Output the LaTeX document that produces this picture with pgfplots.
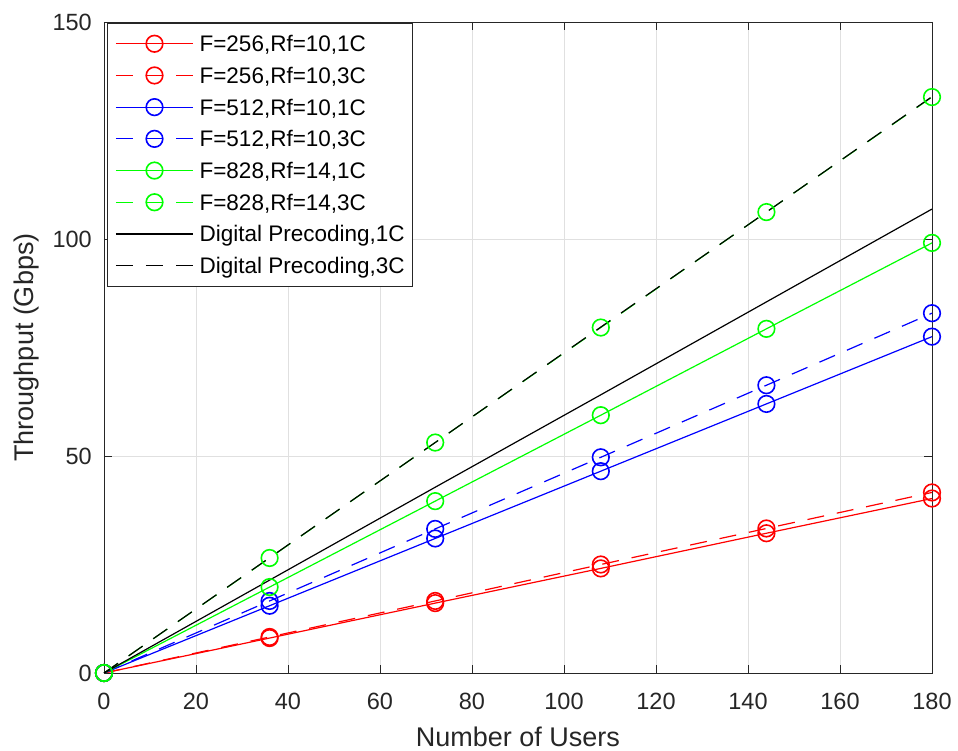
\documentclass[border=0pt]{standalone}
\usepackage{pgfplots}
\pgfplotsset{compat=1.18}
\usepackage{fontspec}
\setmainfont{Liberation Sans}
\definecolor{axc}{rgb}{0.15,0.15,0.15}
\definecolor{gridc}{rgb}{0.88,0.88,0.88}
\definecolor{mred}{rgb}{1,0,0}
\definecolor{mblue}{rgb}{0,0,1}
\definecolor{mgreen}{rgb}{0,1,0}
\begin{document}
\begin{tikzpicture}
\useasboundingbox (-104pt,-78pt) rectangle (854pt,673pt);
\begin{axis}[
  at={(0pt,0pt)}, anchor=south west,
  scale only axis, width=828pt, height=651pt,
  xmin=0, xmax=180, ymin=0, ymax=150,
  xtick={0,20,...,180}, ytick={0,50,100,150},
  tick align=inside, major tick length=8pt,
  grid=major, major grid style={gridc, line width=0.9pt},
  axis line style={axc, line width=0.9pt},
  tick style={axc, line width=0.9pt},
  ticklabel style={font=\fontsize{23.5}{28}\selectfont, text=axc},
  /pgf/number format/assume math mode=true,
  xticklabel style={inner sep=0pt, yshift=-20pt},
  yticklabel style={inner sep=0pt, xshift=-12pt},
  xlabel={Number of Users}, ylabel={Throughput (Gbps)},
  label style={font=\fontsize{27}{32}\selectfont, text=axc},
  xlabel style={at={(axis description cs:0.5,-0.083)}, anchor=north, inner sep=0pt},
  ylabel style={at={(axis description cs:-0.093,0.5)}, anchor=center, inner sep=0pt},
  legend style={at={(axis description cs:0,1)}, anchor=north west, xshift=3pt, yshift=-1pt,
    draw=axc, line width=0.8pt, fill=white, font=\fontsize{22.5}{27}\selectfont, text=black,
    inner xsep=8pt, inner ysep=4.5pt, row sep=0pt, column sep=6pt,
    cells={anchor=west}, nodes={inner sep=0pt, text height=23.9pt, text depth=7.8pt}},
  legend image code/.code={
    \draw[mark repeat=2, mark phase=2, line width=1.2pt, #1] plot coordinates {(0pt,0pt) (38.5pt,0pt) (77pt,0pt)};
  },
  every axis plot/.append style={line width=1.2pt},
  mark size=8.3pt,
  dp/.style={dash pattern=on 17pt off 13pt},
]
\addplot[mred, mark=o, mark options={solid, line width=1.6pt}] coordinates {(0,0) (36,8.05) (72,16.1) (108,24.1) (144,32.2) (180,40.2)};
\addlegendentry{F=256,Rf=10,1C}
\addplot[mred, dp, mark=o, mark options={solid, line width=1.6pt}] coordinates {(0,0) (36,8.3) (72,16.6) (108,25.0) (144,33.3) (180,41.6)};
\addlegendentry{F=256,Rf=10,3C}
\addplot[mblue, mark=o, mark options={solid, line width=1.6pt}] coordinates {(0,0) (36,15.5) (72,31.0) (108,46.5) (144,62.0) (180,77.5)};
\addlegendentry{F=512,Rf=10,1C}
\addplot[mblue, dp, mark=o, mark options={solid, line width=1.6pt}] coordinates {(0,0) (36,16.6) (72,33.2) (108,49.7) (144,66.3) (180,82.9)};
\addlegendentry{F=512,Rf=10,3C}
\addplot[mgreen, mark=o, mark options={solid, line width=1.6pt}] coordinates {(0,0) (36,19.8) (72,39.6) (108,59.4) (144,79.3) (180,99.1)};
\addlegendentry{F=828,Rf=14,1C}
\addplot[mgreen, dp, mark=o, mark options={solid, line width=1.6pt}] coordinates {(0,0) (36,26.5) (72,53.1) (108,79.6) (144,106.2) (180,132.7)};
\addlegendentry{F=828,Rf=14,3C}
\addplot[black, no marks] coordinates {(0,0) (36,21.4) (72,42.8) (108,64.1) (144,85.5) (180,106.9)};
\addlegendentry{Digital Precoding,1C}
\addplot[black, dp, no marks] coordinates {(0,0) (36,26.56) (72,53.1) (108,79.7) (144,106.2) (180,132.8)};
\addlegendentry{Digital Precoding,3C}
\end{axis}
\end{tikzpicture}
\end{document}
